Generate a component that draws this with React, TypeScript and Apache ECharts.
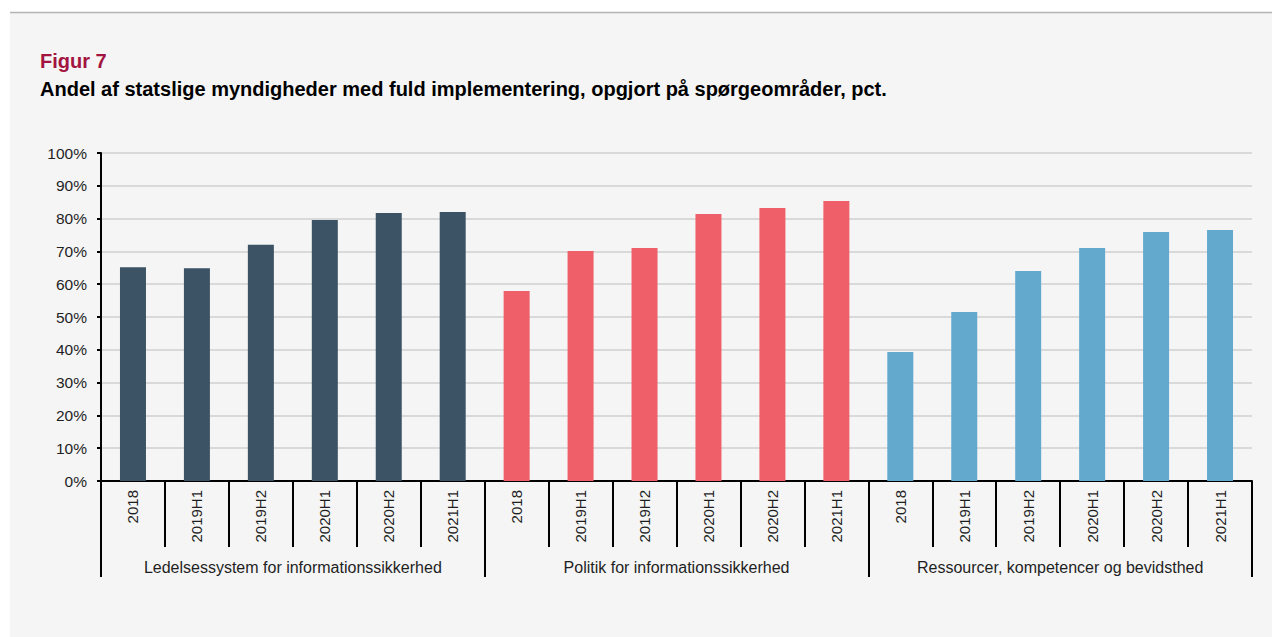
import React, { useEffect, useRef } from "react";
import * as echarts from "echarts";

const periods = ["2018", "2019H1", "2019H2", "2020H1", "2020H2", "2021H1"];
const groups = [
  "Ledelsessystem for informationssikkerhed",
  "Politik for informationssikkerhed",
  "Ressourcer, kompetencer og bevidsthed",
];
const ledelsesValues = [65.2, 64.9, 72.0, 79.6, 81.7, 82.0];
const politikValues = [57.9, 70.1, 71.0, 81.4, 83.2, 85.4];
const ressourceValues = [39.3, 51.5, 64.0, 71.0, 75.9, 76.5];
const yTicks = [0, 10, 20, 30, 40, 50, 60, 70, 80, 90, 100];

const colors = ["#3b5364", "#ef5f6a", "#63a9cd"];
const FONT = "'Liberation Sans', Arial, sans-serif";

export default function App() {
  const ref = useRef<HTMLDivElement>(null);
  useEffect(() => {
    if (!ref.current) return;
    const chart = echarts.init(ref.current, undefined, { renderer: "svg" });
    const categories: string[] = [];
    groups.forEach(() => periods.forEach((p) => categories.push(p)));
    const all = [ledelsesValues, politikValues, ressourceValues];
    const series = all.map((vals, gi) => {
      const data: (number | string)[] = [];
      all.forEach((_, gj) => {
        periods.forEach((_, pi) => data.push(gi === gj ? vals[pi] : "-"));
      });
      return {
        type: "bar",
        name: groups[gi],
        stack: "all",
        barWidth: 26,
        data,
        itemStyle: { color: colors[gi] },
        xAxisIndex: 0,
      };
    });
    chart.setOption({
      animation: false,
      textStyle: { fontFamily: FONT },
      graphic: [
        {
          type: "rect",
          shape: { x: 10, y: 12, width: 1262, height: 625 },
          style: { fill: "#f5f5f5" },
          silent: true,
          z: -10,
        },
        {
          type: "line",
          shape: { x1: 10, y1: 12.5, x2: 1272, y2: 12.5 },
          style: { stroke: "#b4b4b4", lineWidth: 1.5 },
          silent: true,
        },
        {
          type: "text",
          x: 40,
          y: 61,
          style: {
            text: "Figur 7",
            fill: "#a31441",
            font: `bold 20px ${FONT}`,
            verticalAlign: "middle",
          },
        },
        {
          type: "text",
          x: 40,
          y: 89,
          style: {
            text: "Andel af statslige myndigheder med fuld implementering, opgjort på spørgeområder, pct.",
            fill: "#000000",
            font: `bold 20px ${FONT}`,
            verticalAlign: "middle",
          },
        },
      ],
      grid: { left: 101, right: 20, top: 153, bottom: 156, containLabel: false },
      xAxis: [
        {
          type: "category",
          data: categories,
          position: "bottom",
          axisLine: { show: true, lineStyle: { color: "#000", width: 2 } },
          axisTick: { show: true, length: 66, lineStyle: { color: "#000", width: 2 } },
          axisLabel: {
            rotate: 90,
            margin: 9,
            color: "#1f1f1f",
            fontSize: 15,
            fontFamily: FONT,
            interval: 0,
          },
        },
        {
          type: "category",
          data: groups,
          position: "bottom",
          axisLine: { show: false },
          axisTick: { show: true, length: 96, lineStyle: { color: "#000", width: 2 } },
          axisLabel: {
            margin: 78,
            color: "#1f1f1f",
            fontSize: 16,
            fontFamily: FONT,
            interval: 0,
          },
        },
      ],
      yAxis: {
        type: "value",
        min: yTicks[0],
        max: yTicks[yTicks.length - 1],
        interval: 10,
        axisLine: { show: true, lineStyle: { color: "#000", width: 2 } },
        axisTick: { show: true, length: 4, lineStyle: { color: "#000", width: 2 } },
        axisLabel: {
          formatter: "{value}%",
          color: "#1f1f1f",
          fontSize: 15.5,
          fontFamily: FONT,
          margin: 14,
        },
        splitLine: { show: true, lineStyle: { color: "#d9d9d9", width: 2 } },
      },
      series,
    });
    return () => chart.dispose();
  }, []);
  return (
    <div
      ref={ref}
      style={{ position: "absolute", left: 0, top: 0, width: 1272, height: 637 }}
    />
  );
}
